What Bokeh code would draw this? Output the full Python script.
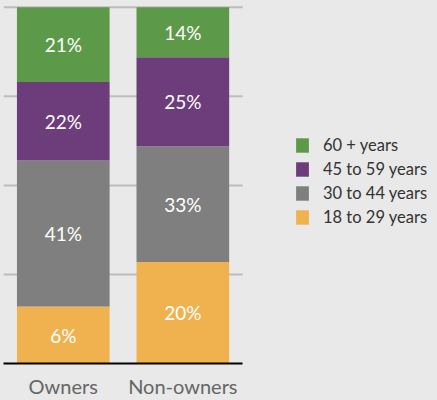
from bokeh.plotting import figure
from bokeh.models import Range1d, ColumnDataSource, Legend, LegendItem, FixedTicker
from bokeh.embed import file_html
from bokeh.resources import INLINE
from bokeh.core.properties import value

groups = ["Owners", "Non-owners"]
series_names = ["18 to 29 years", "30 to 44 years", "45 to 59 years", "60 + years"]
age_18_29 = [16, 28.5]
age_30_44 = [41, 32.5]
age_45_59 = [22, 25]
age_60_plus = [21, 14]
labels_18_29 = ["6%", "20%"]
labels_30_44 = ["41%", "33%"]
labels_45_59 = ["22%", "25%"]
labels_60_plus = ["21%", "14%"]
grid_ticks = [25, 50, 75, 100]
colors = ["#f0b24e", "#7e7f7e", "#6d3c7a", "#5c9a49"]
bg = "#e8e9e8"
FONT = "Lato"

positions = list(range(len(groups)))
keys = ["a", "b", "c", "d"]
data = dict(x=positions, a=age_18_29, b=age_30_44, c=age_45_59, d=age_60_plus)
source = ColumnDataSource(data)

p = figure(x_range=Range1d(-0.5, 3.13), y_range=Range1d(0, 100.5),
           width=437, height=400, output_backend="svg", toolbar_location=None,
           min_border_left=3, min_border_right=0, min_border_top=5, min_border_bottom=36,
           background_fill_color=bg, border_fill_color=bg, outline_line_color=None)

# horizontal guide lines behind bars (only across the bar area)
n = len(grid_ticks)
p.segment(x0=[-0.5] * n, x1=[len(groups) - 0.5] * n, y0=grid_ticks, y1=grid_ticks,
          line_color="#bdbdbd", line_width=2)

renderers = p.vbar_stack(keys, x="x", width=0.775, source=source,
                         fill_color=colors, line_color=None)

# segment labels
all_vals = [age_18_29, age_30_44, age_45_59, age_60_plus]
all_labels = [labels_18_29, labels_30_44, labels_45_59, labels_60_plus]
bottoms = [0.0] * len(groups)
for vals, labs in zip(all_vals, all_labels):
    mids = [b + v / 2 for b, v in zip(bottoms, vals)]
    p.text(x=positions, y=mids, text=labs, text_color="white", text_font=value(FONT),
           text_font_size="19px", text_align="center", text_baseline="middle")
    bottoms = [b + v for b, v in zip(bottoms, vals)]

p.xgrid.visible = False
p.ygrid.visible = False
p.yaxis.visible = False

p.xaxis.ticker = FixedTicker(ticks=positions)
p.xaxis.major_label_overrides = {i: g for i, g in zip(positions, groups)}
p.xaxis.bounds = (-0.5, len(groups) - 0.5)
p.xaxis.axis_line_color = "black"
p.xaxis.axis_line_width = 2
p.xaxis.major_tick_line_color = None
p.xaxis.minor_tick_line_color = None
p.xaxis.major_label_text_font = FONT
p.xaxis.major_label_text_font_size = "20px"
p.xaxis.major_label_text_color = "#666666"
p.xaxis.major_label_standoff = 4

items = [LegendItem(label=name, renderers=[r]) for name, r in zip(series_names, renderers)]
legend = Legend(items=list(reversed(items)), location=(291, 136),
                glyph_width=16, glyph_height=18, label_height=18, spacing=4,
                label_standoff=13, padding=0, margin=0,
                border_line_color=None, background_fill_alpha=0,
                label_text_font=FONT, label_text_font_size="16.5px", label_text_color="#333333")
p.add_layout(legend, "center")

html = file_html(p, INLINE)
html = html.replace("</head>", "<style>html,body{margin:0;padding:0;background:#e8e9e8;}</style></head>", 1)
open("out.html", "w").write(html)
